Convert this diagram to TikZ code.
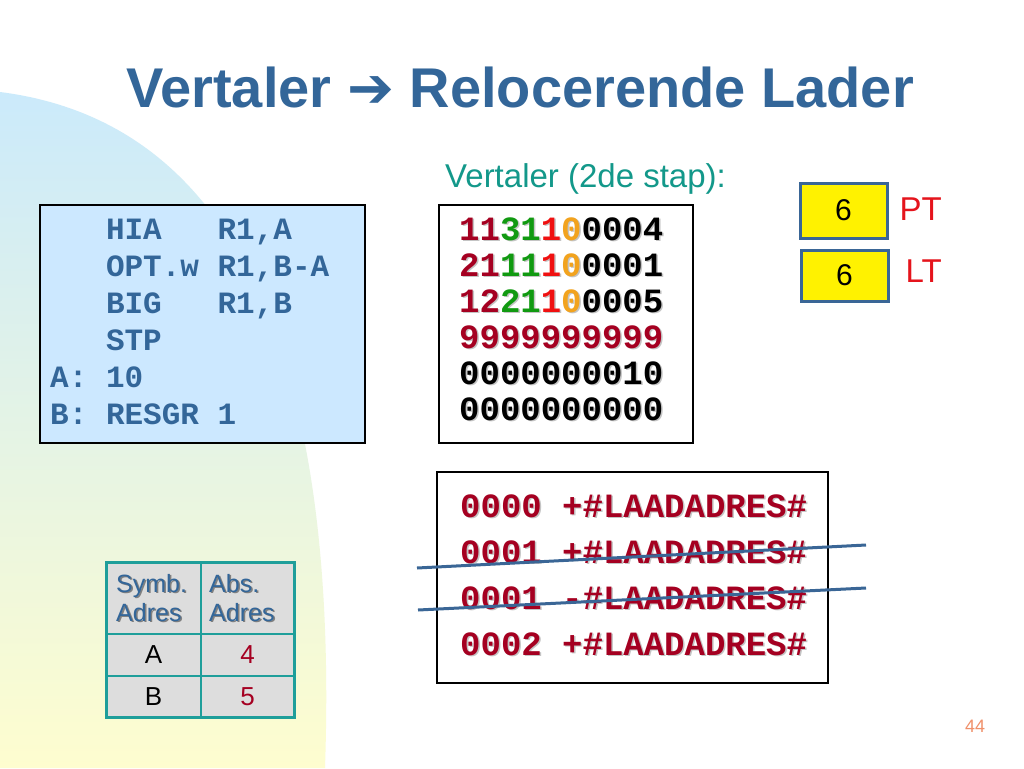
\documentclass[tikz,border=0pt]{standalone}
\usepackage{fontspec}
\setmainfont{Liberation Sans}
\setmonofont{Liberation Mono}
\newfontfamily\arrowfont{DejaVu Sans}
\usetikzlibrary{positioning}

\definecolor{titleblue}{HTML}{336699}
\definecolor{boxblue}{HTML}{CCE8FF}
\definecolor{bgblue}{HTML}{CBEAFB}
\definecolor{bgyellow}{HTML}{FEFDCF}
\definecolor{digred}{HTML}{A50021}
\definecolor{diggreen}{HTML}{119A11}
\definecolor{digorange}{HTML}{F2A31E}
\definecolor{digbright}{HTML}{F01010}
\definecolor{tealtext}{HTML}{13988A}
\definecolor{tabteal}{HTML}{1E9E9A}
\definecolor{tabgray}{HTML}{DDDDDD}
\definecolor{regblue}{HTML}{3A6696}
\definecolor{regred}{HTML}{E5141C}
\definecolor{pagenum}{HTML}{F0906A}
\definecolor{shadowgray}{HTML}{C4C4C4}

% one relocatable word: opcode, register, flags, address
\newcommand\relword[3]{\textcolor{digred}{#1}\textcolor{diggreen}{#2}\textcolor{digbright}{1}\textcolor{digorange}{0}#3}
\newcommand\grayall{\colorlet{digred}{shadowgray}\colorlet{diggreen}{shadowgray}%
  \colorlet{digbright}{shadowgray}\colorlet{digorange}{shadowgray}\color{shadowgray}}

\tikzset{
  codetext/.style={anchor=base west, inner sep=0pt, text=titleblue,
    font=\ttfamily\bfseries\fontsize{31}{31}\selectfont},
  bintext/.style={anchor=base west, inner sep=0pt,
    font=\ttfamily\bfseries\fontsize{34}{34}\selectfont},
  regbox/.style={draw=regblue, line width=3pt, fill=yellow, minimum width=87pt,
    font=\fontsize{30}{30}\selectfont},
  reglabel/.style={inner sep=0pt, text=regred, font=\fontsize{33}{33}\selectfont},
  cell/.style={inner sep=0pt, font=\fontsize{26}{26}\selectfont},
  strike/.style={draw=regblue, line width=3pt}
}

\begin{document}
\begin{tikzpicture}[x=1pt,y=-1pt]

\useasboundingbox (0,0) rectangle (1024,768);
\fill[white] (0,0) rectangle (1024,768);

% Background
\shade[top color=bgblue, bottom color=bgyellow]
  (0,92) .. controls (220,120) and (340,330) .. (325,768) -- (0,768) -- cycle;

% Title
\node[anchor=base, inner sep=0pt, text=titleblue,
      font=\bfseries\fontsize{56}{56}\selectfont] (title) at (520,107)
  {Vertaler {\arrowfont\bfseries ➔} Relocerende Lader};

\node[anchor=base west, inner sep=0pt, text=tealtext,
      font=\fontsize{33}{33}\selectfont] (step) at (445,187) {Vertaler (2de stap):};

% Source program
\draw[fill=boxblue, line width=2.5pt] (40,205) rectangle (365,443);
\foreach \line [count=\i] in {~~~HIA~~~R1{,}A, ~~~OPT.w~R1{,}B-A, ~~~BIG~~~R1{,}B,
                              ~~~STP, A:~10, B:~RESGR~1}
  \node[codetext] (src\i) at (50,202+37*\i) {\line};

% Object code
\draw[fill=white, line width=2pt] (439,205) rectangle (693,443);
\foreach \word [count=\i] in {{\relword{11}{31}{0004}}, {\relword{21}{11}{0001}},
                              {\relword{12}{21}{0005}}, {\textcolor{digred}{9999999999}},
                              0000000010, 0000000000} {
  \node[bintext] (obj\i sh) at (460.5,205.5+36*\i) {\grayall\word};
  \node[bintext] (obj\i) at (459,204+36*\i) {\word};
}

% Relocation table
\draw[fill=white, line width=2.5pt] (437,472) rectangle (828,683);
\foreach \entry [count=\i] in {0000~+\#LAADADRES\#, 0001~+\#LAADADRES\#,
                               0001~-\#LAADADRES\#, 0002~+\#LAADADRES\#} {
  \node[bintext, text=shadowgray] (rel\i sh) at (461.5,472.5+46*\i) {\entry};
  \node[bintext, text=digred] (rel\i) at (460,471+46*\i) {\entry};
}

% Crossed out entries
\coordinate (cut1a) at (417,568);
\coordinate (cut1b) at (866,545);
\coordinate (cut2a) at (418,610);
\coordinate (cut2b) at (866,588);
\draw[strike] (cut1a) -- (cut1b);
\draw[strike] (cut2a) -- (cut2b);

% Counters
\node[regbox, minimum height=55pt] (pt) at (843.5,210.5) {6};
\node[regbox, minimum height=51pt] (lt) at (844.5,275.5) {6};
\node[reglabel, right=11pt of pt, yshift=1pt] (ptlabel) {PT};
\node[reglabel, right=16pt of lt, yshift=4pt] (ltlabel) {LT};

% Symbol table
\fill[tabgray] (106,562) rectangle (294,717);
\draw[tabteal, line width=1.5pt] (201,562) -- (201,717)
  (106,634) -- (294,634) (106,676) -- (294,676);
\draw[tabteal, line width=3pt] (106,562) rectangle (294,717);
\foreach \head/\x in {Symb./116, Abs./209} {
  \node[anchor=base west, inner sep=0pt, text=gray, align=left,
        font=\fontsize{25}{29}\selectfont] (\head sh) at (\x+1.5,622.5) {\head\\Adres};
  \node[anchor=base west, inner sep=0pt, text=titleblue, align=left,
        font=\fontsize{25}{29}\selectfont] (\head) at (\x,621) {\head\\Adres};
}
\node[cell] (symA) at (153.5,655) {A};
\node[cell, text=digred] (absA) at (247.5,655) {4};
\node[cell] (symB) at (153.5,696.5) {B};
\node[cell, text=digred] (absB) at (247.5,696.5) {5};

% Page number
\node[text=pagenum, font=\fontsize{18}{18}\selectfont] (page) at (975,726) {44};

\end{tikzpicture}
\end{document}
